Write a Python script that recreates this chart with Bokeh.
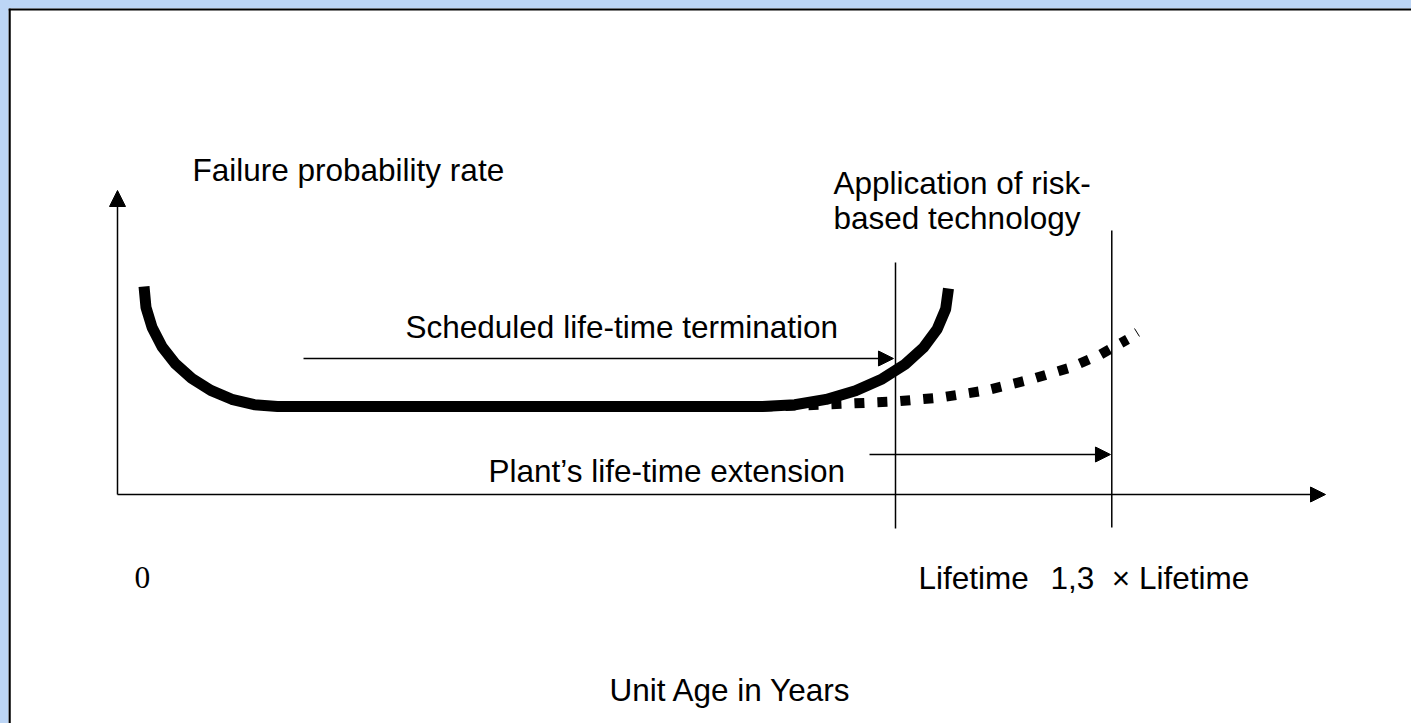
from bokeh.plotting import figure
from bokeh.models import Range1d, Arrow, NormalHead, Span
from bokeh.core.properties import value
from bokeh.embed import file_html
from bokeh.resources import INLINE

# ---------------- data (diagram units: age in % of lifetime, rate arbitrary) -------------
bathtub_age = [3.41, 3.66, 4.45, 5.71, 7.42, 9.54, 11.99, 14.69, 17.58, 20.57,
               82.90, 87.06, 91.08, 94.86, 98.28, 101.22, 103.61, 105.37, 106.45, 106.81]
bathtub_rate = [69.33, 62.40, 55.67, 49.33, 43.63, 38.70, 34.70, 31.73, 29.93, 29.33,
                29.33, 29.93, 31.70, 34.60, 38.53, 43.40, 49.00, 55.20, 61.83, 68.67]

extended_age = [82.90, 87.79, 94.22, 100.00, 105.78, 111.57, 117.35, 122.49, 126.35, 129.82]
extended_rate = [29.33, 29.67, 30.33, 31.00, 32.33, 34.67, 38.33, 42.33, 46.67, 51.67]

tick_age = [130.72, 131.36]
tick_rate = [55.33, 52.67]

lifetime = 100.0
extended_lifetime = 127.8
marker_lines_age = [lifetime, extended_lifetime]
marker_lines_top = [77.33, 88.0]
marker_lines_bottom = [-11.33, -11.0]

axis_x_end = 155.27
axis_y_end = 101.33

sched_arrow = dict(x0=23.91, x1=99.74, y=45.33)
ext_arrow = dict(x0=96.66, x1=127.63, y=13.33)

sans_labels = ["Failure probability rate", "Application of risk-", "based technology",
               "Scheduled life-time termination", "Plant\u2019s life-time extension",
               "Lifetime", "1,3\u00a0 \u00d7 Lifetime", "Unit Age in Years"]
sans_x = [9.64, 92.03, 92.03, 37.02, 47.69, 102.96, 119.92, 63.24]
sans_y = [108.33, 103.67, 92.33, 55.67, 7.67, -27.67, -27.67, -65.33]

serif_labels = ["0"]
serif_x = [2.19]
serif_y = [-27.67]

# ---------------- layout ----------------
PX_X, ORIGIN_X = 7.78, 117.0
PX_Y, ORIGIN_Y = 3.0, 494.0
W, H = 1403, 715

p = figure(width=W, height=H, output_backend="svg", toolbar_location=None,
           x_axis_type=None, y_axis_type=None, min_border=0,
           x_range=Range1d((8 - ORIGIN_X) / PX_X, (8 + W - ORIGIN_X) / PX_X),
           y_range=Range1d((ORIGIN_Y - 8 - H) / PX_Y, (ORIGIN_Y - 8) / PX_Y))
p.outline_line_color = None
p.background_fill_color = "white"
p.border_fill_color = "white"
p.grid.visible = False

# box border (left and top)
p.add_layout(Span(location=(9 - ORIGIN_X) / PX_X, dimension="height",
                  line_color="black", line_width=2.5))
p.add_layout(Span(location=(ORIGIN_Y - 8.8) / PX_Y, dimension="width",
                  line_color="black", line_width=2.5))

# axes with arrowheads
p.add_layout(Arrow(end=NormalHead(size=16, fill_color="black", line_color="black"),
                   x_start=0, y_start=0, x_end=0, y_end=axis_y_end,
                   line_width=1.5, line_color="black"))
p.add_layout(Arrow(end=NormalHead(size=15, fill_color="black", line_color="black"),
                   x_start=0, y_start=0, x_end=axis_x_end, y_end=0,
                   line_width=1.5, line_color="black"))

# vertical marker lines
p.segment(x0=marker_lines_age, y0=marker_lines_bottom, x1=marker_lines_age,
          y1=marker_lines_top, line_color="black", line_width=1.5)

# horizontal annotation arrows
for a in (sched_arrow, ext_arrow):
    p.add_layout(Arrow(end=NormalHead(size=15, fill_color="black", line_color="black"),
                       x_start=a["x0"], y_start=a["y"], x_end=a["x1"], y_end=a["y"],
                       line_width=1.5, line_color="black"))

# curves
p.line(extended_age, extended_rate, line_color="black", line_width=10,
       line_dash="10 13", line_cap="butt")
p.line(bathtub_age, bathtub_rate, line_color="black", line_width=11,
       line_cap="butt", line_join="round")
p.line(tick_age, tick_rate, line_color="black", line_width=1)

# texts
p.text(x=sans_x, y=sans_y, text=sans_labels, text_font=value("Liberation Sans"),
       text_font_size=value("31.5px"), text_color="black",
       text_align="left", text_baseline="alphabetic")
p.text(x=serif_x, y=serif_y, text=serif_labels, text_font=value("Liberation Serif"),
       text_font_size=value("31.5px"), text_color="black",
       text_align="left", text_baseline="alphabetic")

html = file_html(p, INLINE)
html = html.replace("</head>",
                    "<style>html,body{background:#bcd5f5;margin:0;padding:0;overflow:hidden}"
                    "body{margin:8px 0 0 8px;}</style></head>", 1)
open("out.html", "w").write(html)
